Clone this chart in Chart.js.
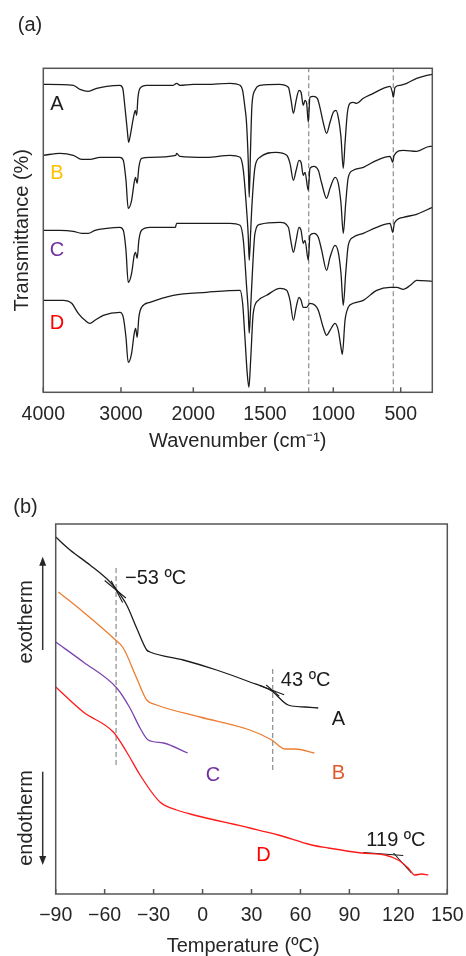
<!DOCTYPE html>
<html>
<head>
<meta charset="utf-8">
<script src="https://cdn.jsdelivr.net/npm/chart.js@4.4.1/dist/chart.umd.min.js"></script>
<style>
  html, body { margin: 0; padding: 0; background: #fff; overflow: hidden; }
  #ftir { position: absolute; left: 0; top: 0; }
  #dsc { position: absolute; left: 0; top: 460px; }
</style>
</head>
<body>
<canvas id="ftir" width="466" height="460"></canvas>
<canvas id="dsc" width="466" height="506"></canvas>
<script>
// ---- (a) FTIR spectra, offset transmittance (a.u.) ----
const wnTicks = [4000, 3000, 2000, 1500, 1000, 500];
const wnDashed = [1180, 555];

const wnA = [4000,3614,3528,3421,3313,3184,3013,2976,2945,2913,2894,2866,2830,2802,2783,2765,2737,2645,2277,2230,2185,2000,1907,1744,1674,1656,1640,1630,1617,1610,1601,1591,1570,1535,1396,1329,1309,1292,1272,1251,1236,1220,1207,1195,1183,1171,1146,1117,1098,1074,1049,1024,1000,980,963,943,926,913,896,876,852,827,777,703,629,579,562,555,542,505,456,384,335,270];
const trA = [308,307,303,301,304,306,307,304,285,262,250,259,274,282,277,295,304,307,307,309,307,308,308,309,307,302,285,272,232,195,242,287,302,307,308,305,292,279,292,302,300,287,292,289,270,295,296,294,285,270,259,270,280,282,275,255,224,249,279,289,290,289,294,299,304,306,300,295,305,307,309,314,316,318];

const wnB = [4000,3785,3614,3506,3399,3270,3013,2968,2931,2900,2853,2817,2798,2776,2753,2715,2600,2241,2231,2185,1907,1744,1674,1651,1628,1617,1610,1601,1593,1570,1535,1419,1341,1317,1292,1272,1251,1236,1220,1207,1183,1171,1142,1110,1085,1049,1024,987,963,943,926,908,889,852,777,678,579,559,549,481,384,287,270];
const trB = [237,239,237,233,233,235,235,232,212,184,192,210,215,209,225,234,235,237,239,236,235,237,235,222,182,157,132,157,182,225,235,240,237,229,212,222,232,230,217,220,202,224,226,222,209,194,204,215,209,189,159,189,215,222,225,232,236,230,237,242,241,246,246];

const wnC = [4000,3785,3614,3506,3421,3335,3184,3013,2968,2931,2900,2853,2817,2798,2776,2753,2715,2600,2248,2231,2139,1907,1744,1674,1651,1628,1617,1610,1601,1593,1570,1535,1390,1329,1309,1292,1272,1251,1236,1220,1207,1183,1171,1142,1110,1085,1049,1024,987,963,943,926,908,889,852,777,678,579,559,547,481,384,270];
const trC = [162,162,161,159,159,162,164,165,162,142,110,119,137,140,134,152,162,165,165,169,169,169,169,167,152,105,82,59,82,105,159,168,170,165,150,140,152,165,162,149,152,132,157,159,155,142,122,135,147,140,119,87,119,147,155,159,165,169,160,169,175,178,185];

const wnD = [4000,3743,3635,3550,3463,3399,3335,3228,3013,2968,2931,2900,2853,2817,2798,2776,2753,2715,2600,2277,1907,1674,1656,1640,1624,1612,1600,1582,1547,1488,1390,1341,1317,1292,1272,1251,1236,1220,1195,1171,1134,1110,1074,1049,1024,987,963,943,933,913,889,852,777,678,579,529,481,430,384,270];
const trD = [92,92,89,79,72,69,72,77,80,75,55,30,39,59,64,55,75,85,90,97,100,102,89,55,19,5,32,79,92,97,104,102,92,72,85,95,92,85,85,89,87,82,65,57,62,69,62,45,38,72,85,89,92,102,105,105,103,107,112,111];

// ---- (b) DSC curves, heat flow (a.u.) ----
const tempA = [-90,-81.2,-69,-56.7,-52.6,-46.5,-40.4,-34.2,-32.2,-11.8,8.6,29,42.4,52.5,62.8,70.9];
const hfA = [357,344,329,312,304,289,266,244,242,234,224,212,203,189,187,186];
const tempB = [-88.4,-73.1,-54.7,-48.6,-40.4,-34.2,-28.1,-1.6,29,42.4,50.5,56.6,68.5];
const hfB = [302,282,256,246,216,194,189,177,164,154,145,145,141];
const tempC = [-90,-73.1,-52.6,-44.5,-38.3,-33.3,-24,-9.1];
const hfC = [252,232,206,186,166,154,151,141];
const tempD = [-90,-73.1,-54.7,-46.5,-38.3,-26.1,-15.9,-7.7,29,46.4,66.8,77,97.5,111.8,119.9,126,130.1,134.2,138.3];
const hfD = [207,182,162,142,119,92,84,80,66,59,49,46,41,39,34,26,19,20,19];

// transition marks: dashed guides and onset tangents
const tgDashed = [-53, 43];
const tgDashTop = [329, 226];
const tgDashBottom = [129, 124];
const tangents = [
  [[-60, 313.5], [-47, 296]],
  [[-56, 313.3], [-49, 291.6]],
  [[35, 208.5], [50, 199.2]],
  [[39, 209], [47, 197.9]],
  [[98.5, 41.5], [123, 38.5]],
  [[117, 41], [128, 21]]
];

Chart.defaults.font.family = '"Liberation Sans", Arial, sans-serif';
Chart.defaults.color = '#262626';

// wavenumber axis: compressed above 2000 cm-1
const wnKnots = [4000, 3000, 2000, 1500, 1000, 500, 270];
const wnFrac = [0, 0.1997, 0.3856, 0.5699, 0.7455, 0.9188, 1];
class SplitScale extends Chart.LinearScale {
  getPixelForValue(v) {
    let i = 0;
    while (i < wnKnots.length - 2 && v < wnKnots[i + 1]) i++;
    const t = (wnKnots[i] - v) / (wnKnots[i] - wnKnots[i + 1]);
    return this.left + (wnFrac[i] + t * (wnFrac[i + 1] - wnFrac[i])) * this.width;
  }
  getValueForPixel(p) {
    const f = (p - this.left) / this.width;
    let i = 0;
    while (i < wnFrac.length - 2 && f > wnFrac[i + 1]) i++;
    const t = (f - wnFrac[i]) / (wnFrac[i + 1] - wnFrac[i]);
    return wnKnots[i] - t * (wnKnots[i] - wnKnots[i + 1]);
  }
}
SplitScale.id = 'split';
SplitScale.defaults = Chart.LinearScale.defaults;
Chart.register(SplitScale);

const pts = (xs, ys) => xs.map((x, i) => ({ x, y: ys[i] }));
const curve = (xs, ys, color) => ({
  data: pts(xs, ys), borderColor: color, borderWidth: 1.3,
  pointRadius: 0, cubicInterpolationMode: 'monotone'
});
const dashed = (x, y0, y1) => ({
  data: [{ x, y: y0 }, { x, y: y1 }], borderColor: '#8c8c8c',
  borderWidth: 1.2, borderDash: [5, 3], pointRadius: 0
});

// frame, inward ticks and text labels
function decor(labels, extra) {
  return {
    id: 'decor',
    afterDatasetsDraw(chart) {
      const { ctx, chartArea: a, scales: { x, y } } = chart;
      ctx.save();
      ctx.strokeStyle = '#555';
      ctx.lineWidth = 1.5;
      ctx.strokeRect(a.left, a.top, a.right - a.left, a.bottom - a.top);
      x.ticks.forEach((t, i) => {
        const px = x.getPixelForTick(i);
        ctx.beginPath();
        ctx.moveTo(px, a.bottom);
        ctx.lineTo(px, a.bottom - 5);
        ctx.stroke();
      });
      ctx.font = '20px "Liberation Sans", Arial, sans-serif';
      ctx.textBaseline = 'middle';
      labels.forEach(l => {
        ctx.fillStyle = l.color;
        ctx.textAlign = l.align || 'center';
        ctx.fillText(l.text, x.getPixelForValue(l.x), y.getPixelForValue(l.y));
      });
      if (extra) extra(ctx, a);
      ctx.restore();
    }
  };
}

function arrow(ctx, x, from, to) {
  const d = to < from ? 1 : -1;
  ctx.beginPath();
  ctx.moveTo(x, from);
  ctx.lineTo(x, to + d * 8);
  ctx.stroke();
  ctx.beginPath();
  ctx.moveTo(x, to);
  ctx.lineTo(x - 3.5, to + d * 9);
  ctx.lineTo(x + 3.5, to + d * 9);
  ctx.closePath();
  ctx.fill();
}

// (a)
new Chart(document.getElementById('ftir'), {
  type: 'line',
  data: {
    datasets: [
      curve(wnA, trA, '#1c1c1c'),
      curve(wnB, trB, '#1c1c1c'),
      curve(wnC, trC, '#1c1c1c'),
      curve(wnD, trD, '#1c1c1c'),
      ...wnDashed.map(w => dashed(w, 0, 324))
    ]
  },
  options: {
    responsive: false,
    animation: false,
    layout: { padding: { left: 0, right: 33.7, top: 68.3, bottom: 0 } },
    plugins: { legend: { display: false }, tooltip: { enabled: false } },
    scales: {
      x: {
        type: 'split', min: 270, max: 4000,
        grid: { display: false }, border: { display: false },
        afterBuildTicks: s => { s.ticks = wnTicks.map(v => ({ value: v })); },
        afterFit: s => { s.height = 67.7; },
        ticks: { autoSkip: false, maxRotation: 0, padding: 3, font: { size: 19.5 }, callback: v => '' + v },
        title: { display: true, text: 'Wavenumber (cm\u207B\u00B9)', font: { size: 20 }, padding: { top: 0, bottom: 6.3 } }
      },
      y: {
        min: 0, max: 324,
        grid: { display: false }, border: { display: false },
        ticks: { display: false },
        afterFit: s => { s.width = 43.3; },
        title: { display: true, text: 'Transmittance (%)', font: { size: 20 }, padding: { top: 10, bottom: 0 } }
      }
    }
  },
  plugins: [decor([
    { text: 'A', x: 3825, y: 288, color: '#1c1c1c' },
    { text: 'B', x: 3825, y: 219, color: '#ffc000' },
    { text: 'C', x: 3825, y: 142, color: '#7030a0' },
    { text: 'D', x: 3825, y: 69, color: '#ff0000' }
  ], ctx => {
    ctx.fillStyle = '#262626';
    ctx.textAlign = 'center';
    ctx.fillText('(a)', 30, 25);
  })]
});

// (b)
new Chart(document.getElementById('dsc'), {
  type: 'line',
  data: {
    datasets: [
      curve(tempA, hfA, '#1c1c1c'),
      curve(tempB, hfB, '#ed7d31'),
      curve(tempC, hfC, '#7b45b0'),
      curve(tempD, hfD, '#ff1a1a'),
      ...tgDashed.map((t, i) => dashed(t, tgDashBottom[i], tgDashTop[i])),
      ...tangents.map(seg => ({
        data: seg.map(p => ({ x: p[0], y: p[1] })),
        borderColor: '#1c1c1c', borderWidth: 1.1, pointRadius: 0
      }))
    ]
  },
  options: {
    responsive: false,
    animation: false,
    layout: { padding: { left: 55.7, right: 18.7, top: 64, bottom: 0 } },
    plugins: { legend: { display: false }, tooltip: { enabled: false } },
    scales: {
      x: {
        type: 'linear', min: -90, max: 150,
        grid: { display: false }, border: { display: false },
        afterFit: s => { s.height = 72; },
        ticks: {
          stepSize: 30, autoSkip: false, maxRotation: 0, padding: 1.5, font: { size: 19.5 },
          callback: v => (v < 0 ? '\u2212' + Math.abs(v) : '' + v)
        },
        title: { display: true, text: 'Temperature (\u00BAC)   ', font: { size: 20 }, padding: { top: 0, bottom: 7.3 } }
      },
      y: { display: false, min: 0, max: 370 }
    }
  },
  plugins: [decor([
    { text: '\u221253 \u00BAC', x: -47.5, y: 316, color: '#1c1c1c', align: 'left' },
    { text: '43 \u00BAC', x: 48, y: 214, color: '#1c1c1c', align: 'left' },
    { text: '119 \u00BAC', x: 100.4, y: 53.5, color: '#1c1c1c', align: 'left' },
    { text: 'A', x: 83.2, y: 175, color: '#1c1c1c' },
    { text: 'B', x: 83.3, y: 121, color: '#e2572b' },
    { text: 'C', x: 6.4, y: 119, color: '#7030a0' },
    { text: 'D', x: 37.3, y: 39, color: '#ff0000' }
  ], ctx => {
    ctx.fillStyle = '#262626';
    ctx.strokeStyle = '#333';
    ctx.lineWidth = 1.5;
    ctx.textAlign = 'center';
    ctx.fillText('(b)', 25.5, 47.5);
    arrow(ctx, 42.7, 190, 96.7);
    arrow(ctx, 42.7, 311.7, 405);
    ctx.save();
    ctx.translate(26, 161.7);
    ctx.rotate(-Math.PI / 2);
    ctx.fillText('exotherm', 0, 0);
    ctx.restore();
    ctx.save();
    ctx.translate(26, 358);
    ctx.rotate(-Math.PI / 2);
    ctx.fillText('endotherm', 0, 0);
    ctx.restore();
  })]
});
</script>
</body>
</html>
